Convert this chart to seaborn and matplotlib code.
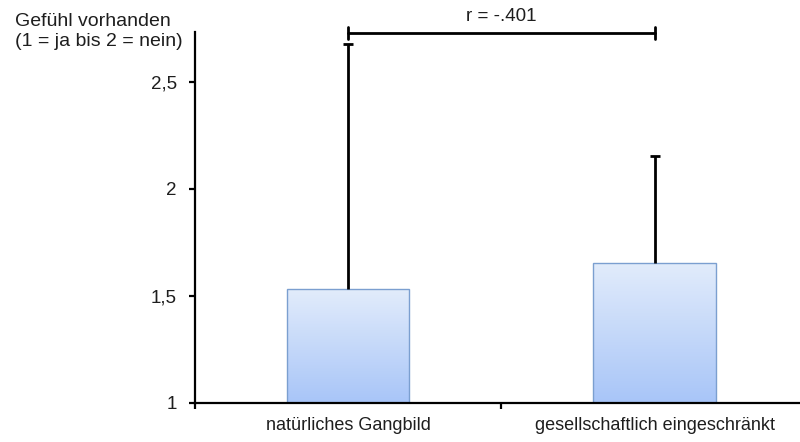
import numpy as np
import pandas as pd
import matplotlib
matplotlib.use("Agg")
import matplotlib.pyplot as plt
from matplotlib.colors import LinearSegmentedColormap
import seaborn as sns

# Mean rating per group with the standard deviation shown as an upper error bar
categories = ["natürliches Gangbild", "gesellschaftlich eingeschränkt"]
means = [1.53, 1.655]
sds = [1.145, 0.50]
yticks = [1, 1.5, 2, 2.5]
ytick_labels = ["1", "1,5", "2", "2,5"]
corr_label = "r = -.401"
ylabel_text = "Gefühl vorhanden\n(1 = ja bis 2 = nein)"

df = pd.DataFrame({"Gruppe": categories, "Mittelwert": means, "SD": sds})

sns.set_theme(style="white")
plt.rcParams["font.family"] = ["Liberation Sans", "DejaVu Sans"]
text_color = "#1e1e1e"
fs = 13.5

fig = plt.figure(figsize=(8.0, 4.42), dpi=100)
ax = fig.add_axes([0.24375, 0.089, 0.766, 0.8385])

bottom = 1.0
sns.barplot(data=df, x="Gruppe", y="Mittelwert", order=categories,
            width=0.4, errorbar=None, color="#c6dafa",
            edgecolor="#7b9fd0", linewidth=1.0, ax=ax, zorder=2)

ax.set_ylim(bottom, 2.732)
ax.set_xlim(-0.5, 1.5)

# Vertical gradient fill inside each bar (light at the top, blue at the bottom)
grad_cmap = LinearSegmentedColormap.from_list("barfill", ["#a8c5f8", "#e2ecfb"])
grad = np.linspace(0, 1, 256).reshape(-1, 1)
for patch in ax.patches:
    x0 = patch.get_x()
    w = patch.get_width()
    h = patch.get_height()
    patch.set_facecolor("none")
    im = ax.imshow(grad, cmap=grad_cmap, origin="lower", aspect="auto",
                   extent=[x0, x0 + w, bottom, h], zorder=1.5)
    im.set_clip_path(patch)
ax.set_xlim(-0.5, 1.5)
ax.set_ylim(bottom, 2.732)

# Upper-only error bars (the lower cap is hidden)
xpos = np.arange(len(categories))
_, caps, _ = ax.errorbar(xpos, means, yerr=[np.zeros(len(sds)), sds],
                         fmt="none", ecolor="black", elinewidth=2.0,
                         capsize=3.5, capthick=2.0, zorder=3, clip_on=False)
caps[0].set_visible(False)

# Axes styling
sns.despine(ax=ax, top=True, right=True)
for side in ("left", "bottom"):
    ax.spines[side].set_color("black")
    ax.spines[side].set_linewidth(1.6)

ax.set_yticks(yticks)
ax.set_yticklabels(ytick_labels)
ax.set_xticks(xpos)
ax.set_xticklabels(categories)
ax.set_xticks([-0.5, 0.5, 1.5], minor=True)
ax.tick_params(axis="y", which="major", left=True, length=4, width=1.6,
               color="black", pad=9, labelsize=fs, labelcolor=text_color)
ax.tick_params(axis="x", which="major", bottom=False, length=0, pad=10,
               labelsize=fs - 0.5, labelcolor=text_color)
ax.tick_params(axis="x", which="minor", bottom=True, length=4, width=1.6,
               color="black")
ax.set_xlabel("")
ax.set_ylabel("")
ax.grid(False)

# Correlation bracket between the two groups
ytop = 2.727
ax.plot([xpos[0], xpos[1]], [ytop, ytop], color="black", lw=2.0,
        clip_on=False, zorder=4)
for xi in xpos:
    ax.plot([xi, xi], [ytop - 0.027, ytop + 0.027], color="black", lw=2.0,
            clip_on=False, zorder=4)
ax.text((xpos[0] + xpos[1]) / 2, ytop + 0.038, corr_label, ha="center",
        va="bottom", fontsize=fs, color=text_color, clip_on=False)

# Axis title in the top-left corner
fig.text(15 / 800, 1 - 13 / 442, ylabel_text, ha="left", va="top",
         fontsize=fs + 0.5, color=text_color, linespacing=1.22)

fig.savefig("out.png", dpi=100)
